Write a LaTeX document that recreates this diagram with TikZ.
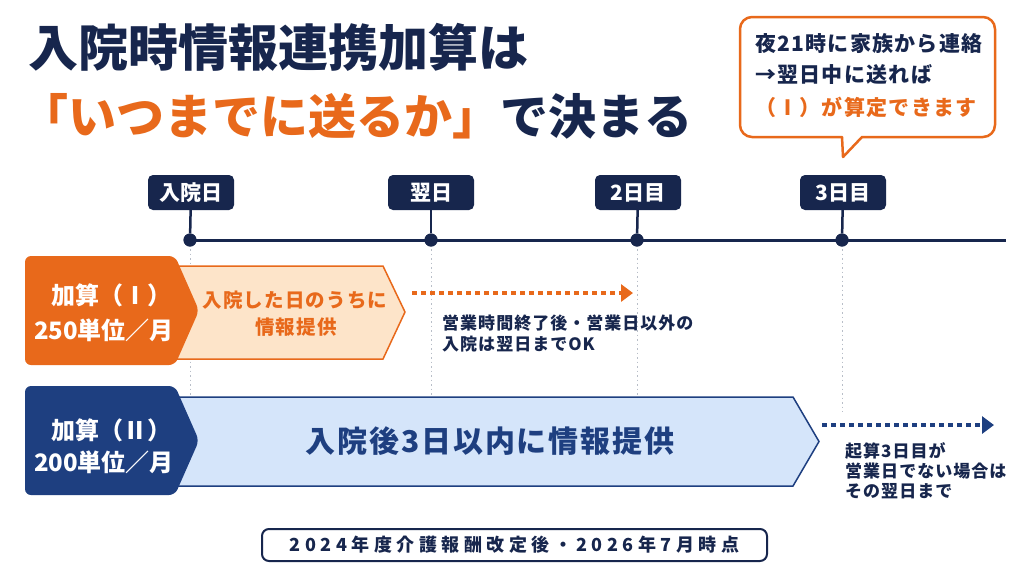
\documentclass[tikz,border=0pt]{standalone}
\usepackage{fontspec}
\setmainfont{Noto Sans CJK JP}
\newfontfamily\jpsp{Noto Sans CJK JP}[LetterSpace=6]
\newfontfamily\jpwide{Noto Sans CJK JP}[LetterSpace=25]
\usetikzlibrary{arrows.meta}
\definecolor{navy}{HTML}{17264D}
\definecolor{org}{HTML}{E8691B}
\definecolor{lorg}{HTML}{FDE4C9}
\definecolor{blu}{HTML}{1E3F80}
\definecolor{lblu}{HTML}{D5E5FA}
\definecolor{grayd}{HTML}{B8BEC8}
\newcommand{\setfs}[1]{\fontsize{#1}{#1}\selectfont}
\tikzset{
  daybox/.style={fill=navy, rounded corners=5, text=white, font=\bfseries\setfs{21}, minimum height=35, minimum width=86, inner xsep=11, inner ysep=0},
  dayline/.style={navy, line width=2.5},
  daydot/.style={circle, fill=navy, minimum size=13, inner sep=0},
  guide/.style={grayd, line width=1, dash pattern=on 1.5 off 3},
  lbltxt/.style={text=white, font=\bfseries\setfs{24}, inner sep=0},
  note/.style={anchor=west, text=navy, font=\jpsp\bfseries\setfs{17}, inner sep=0},
  callt/.style={anchor=west, font=\jpsp\bfseries\setfs{21}, inner sep=0},
  dotarrow/.style={line width=4, dash pattern=on 5 off 4, -{Triangle[length=12,width=17]}},
}
\begin{document}
\begin{tikzpicture}[x=1pt,y=-1pt]
\useasboundingbox (0,0) rectangle (1024,576);
\fill[white] (0,0) rectangle (1024,576);

% Title
\node[anchor=west, inner sep=0, font=\bfseries\setfs{50}, text=navy] (t1) at (28,47) {入院時情報連携加算は};
\node[anchor=west, inner sep=0, font=\bfseries\setfs{48}, text=navy] (t2) at (20,116) {\textcolor{org}{「いつまでに送るか」}で決まる};

% Callout
\draw[org, line width=2.5, fill=white, line join=round] (843,157) -- (842,137) -- (770,137)
  {[rounded corners=12] -- (740,137) -- (740,17) -- (995,17) -- (995,137) -- (880,137)} -- (862,137) -- cycle;
\node[callt, text=navy] (c1) at (755,44) {夜21時に家族から連絡};
\node[callt, text=navy] (c2) at (755,75) {→翌日中に送れば};
\node[callt, text=org] (c3) at (755,107) {（Ⅰ）が算定できます};

% Guides
\coordinate (g0) at (190,410);
\coordinate (g1) at (431,410);
\coordinate (g2) at (637,410);
\coordinate (g3) at (842,412);
\node[daydot] (d0) at (190,240) {};
\node[daydot] (d1) at (431,240) {};
\node[daydot] (d2) at (637,240) {};
\node[daydot] (d3) at (842,240) {};
\draw[guide] (d0.center) -- (g0);
\draw[guide] (d1.center) -- (g1);
\draw[guide] (d2.center) -- (g2);
\draw[guide] (d3.center) -- (g3);

% Timeline
\coordinate (tend) at (1006,240);
\draw[navy, line width=3] (d0.center) -- (tend);
\node[daybox] (b0) at (191,192.5) {入院日};
\node[daybox] (b1) at (431,192.5) {翌日};
\node[daybox] (b2) at (638,192.5) {2日目};
\node[daybox] (b3) at (843,192.5) {3日目};
\draw[dayline] (b0) -- (d0);
\draw[dayline] (b1) -- (d1);
\draw[dayline] (b2) -- (d2);
\draw[dayline] (b3) -- (d3);
\node[daydot] at (d0) {};
\node[daydot] at (d1) {};
\node[daydot] at (d2) {};
\node[daydot] at (d3) {};

% Row I
\filldraw[fill=lorg, draw=org, line width=1.5] (170,266) -- (383,266) -- (405,312) -- (383,359) -- (170,359) -- cycle;
\fill[org, rounded corners=6] (25,256) -- (175,256) -- (199,310.5) -- (175,365) -- (25,365) -- cycle;
\node[lbltxt] (l1a) at (111,295) {加算（Ⅰ）};
\node[lbltxt] (l1b) at (104,330) {250単位／月};
\node[inner sep=0, text=org, font=\jpsp\bfseries\setfs{19.5}] (i1a) at (295,300) {入院した日のうちに};
\node[inner sep=0, text=org, font=\jpsp\bfseries\setfs{19.5}] (i1b) at (296,327) {情報提供};
\coordinate (a1s) at (412,293);
\coordinate (a1e) at (633,293);
\draw[org, dotarrow] (a1s) -- (a1e);
\node[note] (n1a) at (442,323) {営業時間終了後・営業日以外の};
\node[note] (n1b) at (442,344) {入院は翌日までOK};

% Row II
\filldraw[fill=lblu, draw=blu, line width=1.5] (170,397) -- (793,397) -- (819,441.5) -- (793,486) -- (170,486) -- cycle;
\fill[blu, rounded corners=6] (25,386) -- (175,386) -- (199,440.5) -- (175,495) -- (25,495) -- cycle;
\node[lbltxt] (l2a) at (111,430) {加算（Ⅱ）};
\node[lbltxt] (l2b) at (104,462) {200単位／月};
\node[inner sep=0, text=blu, font=\jpsp\bfseries\setfs{30}] (i2) at (490,441) {入院後3日以内に情報提供};
\coordinate (a2s) at (822,425);
\coordinate (a2e) at (994,425);
\draw[blu, dotarrow] (a2s) -- (a2e);
\node[note] (n2a) at (845,451) {起算3日目が};
\node[note] (n2b) at (845,471) {営業日でない場合は};
\node[note] (n2c) at (845,491) {その翌日まで};

% Footer
\node[draw=navy, line width=2, rounded corners=7, minimum width=505, minimum height=32, inner sep=0, text=navy, font=\jpwide\bfseries\setfs{18}] (foot) at (514.5,545) {2024年度介護報酬改定後・2026年7月時点};
\end{tikzpicture}
\end{document}
